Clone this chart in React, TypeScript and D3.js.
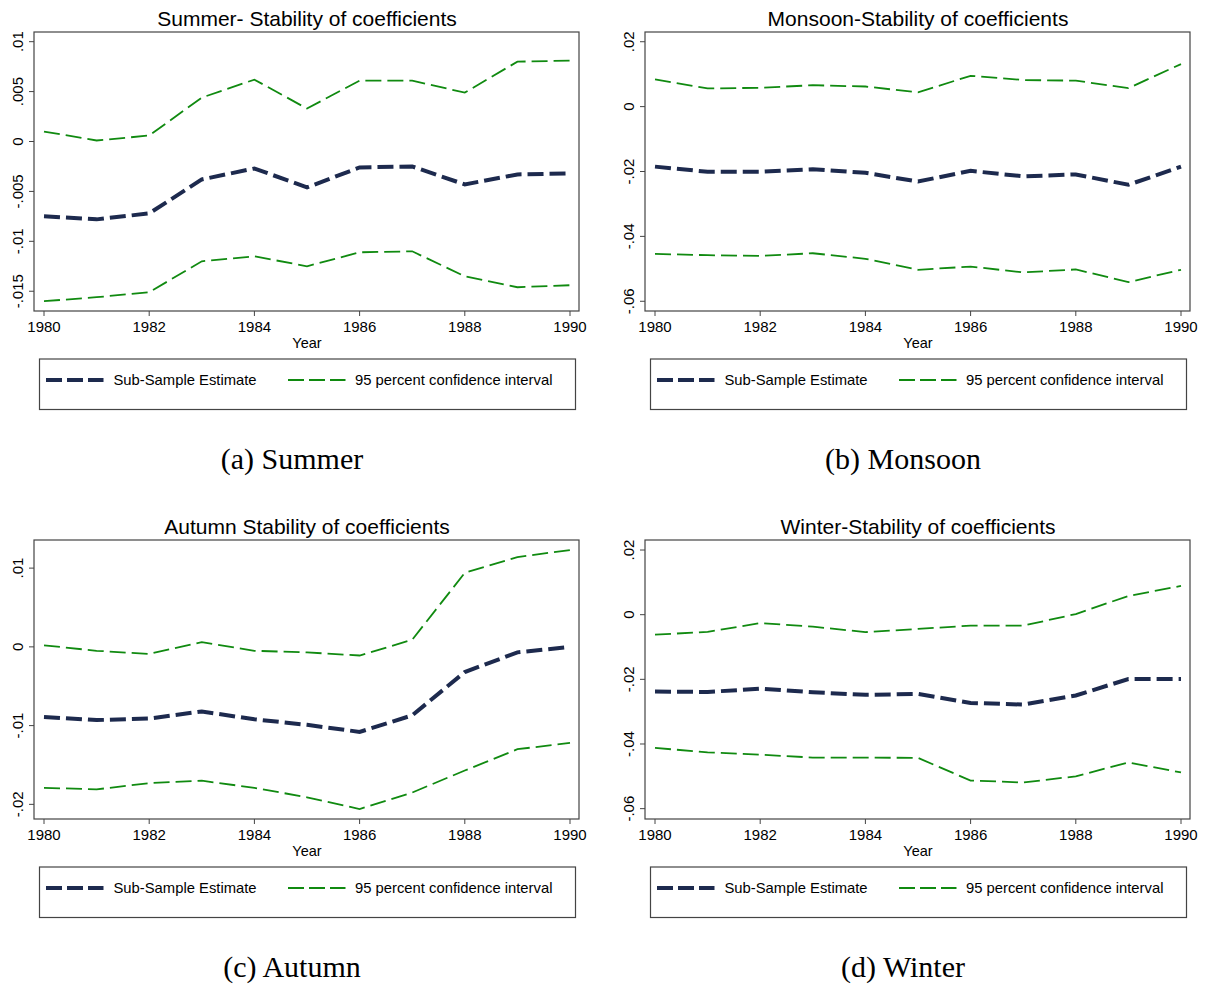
import React, { useEffect, useRef } from "react";
import * as d3 from "d3";

const years = [1980, 1981, 1982, 1983, 1984, 1985, 1986, 1987, 1988, 1989, 1990];
const xTicks = [1980, 1982, 1984, 1986, 1988, 1990];

const summerEst = [-0.0075, -0.0078, -0.0072, -0.0038, -0.0027, -0.0046, -0.0026, -0.0025, -0.0043, -0.0033, -0.0032];
const summerUpper = [0.001, 0.0001, 0.0006, 0.0044, 0.0062, 0.0033, 0.0061, 0.0061, 0.0049, 0.008, 0.0081];
const summerLower = [-0.016, -0.0156, -0.0151, -0.012, -0.0115, -0.0125, -0.0111, -0.011, -0.0135, -0.0146, -0.0144];

const monsoonEst = [-0.0185, -0.0201, -0.0201, -0.0193, -0.0204, -0.0231, -0.0198, -0.0215, -0.0209, -0.0241, -0.0185];
const monsoonUpper = [0.0084, 0.0056, 0.0058, 0.0066, 0.0062, 0.0044, 0.0095, 0.0082, 0.008, 0.0057, 0.0131];
const monsoonLower = [-0.0454, -0.0458, -0.046, -0.0452, -0.0469, -0.0503, -0.0493, -0.0511, -0.0502, -0.0541, -0.0503];

const autumnEst = [-0.0089, -0.0093, -0.0091, -0.0082, -0.0092, -0.0099, -0.0108, -0.0087, -0.0032, -0.0007, 0.0];
const autumnUpper = [0.0002, -0.0005, -0.0009, 0.0006, -0.0005, -0.0007, -0.0011, 0.0009, 0.0094, 0.0114, 0.0123];
const autumnLower = [-0.0179, -0.0181, -0.0173, -0.017, -0.0179, -0.0191, -0.0206, -0.0185, -0.0157, -0.013, -0.0122];

const winterEst = [-0.0238, -0.0239, -0.0229, -0.024, -0.0248, -0.0245, -0.0273, -0.0278, -0.025, -0.0199, -0.0199];
const winterUpper = [-0.0062, -0.0053, -0.0026, -0.0037, -0.0054, -0.0044, -0.0034, -0.0034, 0.0002, 0.0058, 0.0089];
const winterLower = [-0.0412, -0.0426, -0.0433, -0.0442, -0.0442, -0.0443, -0.0513, -0.0519, -0.05, -0.0457, -0.0488];

const summerTicks = [-0.015, -0.01, -0.005, 0, 0.005, 0.01];
const monsoonTicks = [-0.06, -0.04, -0.02, 0, 0.02];
const autumnTicks = [-0.02, -0.01, 0, 0.01];
const winterTicks = [-0.06, -0.04, -0.02, 0, 0.02];

const summerLim = [-0.01698, 0.01097];
const monsoonLim = [-0.063, 0.023];
const autumnLim = [-0.02186, 0.01357];
const winterLim = [-0.0632, 0.0231];

const titles = [
  "Summer- Stability of coefficients",
  "Monsoon-Stability of coefficients",
  "Autumn Stability of coefficients",
  "Winter-Stability of coefficients",
];
const captions = ["(a) Summer", "(b) Monsoon", "(c) Autumn", "(d) Winter"];
const legendLabels = ["Sub-Sample Estimate", "95 percent confidence interval"];

const panels = [
  { est: summerEst, up: summerUpper, lo: summerLower, ticks: summerTicks, lim: summerLim, ox: 0, oy: 0 },
  { est: monsoonEst, up: monsoonUpper, lo: monsoonLower, ticks: monsoonTicks, lim: monsoonLim, ox: 611, oy: 0 },
  { est: autumnEst, up: autumnUpper, lo: autumnLower, ticks: autumnTicks, lim: autumnLim, ox: 0, oy: 508 },
  { est: winterEst, up: winterUpper, lo: winterLower, ticks: winterTicks, lim: winterLim, ox: 611, oy: 508 },
];

const NAVY = "#1d2a4e";
const GREEN = "#108a10";
const SANS = "'Liberation Sans', Arial, sans-serif";

// stata style: .01, -.005, 0
const fmt = (v: number) => {
  if (Math.abs(v) < 1e-12) return "0";
  let s = String(+v.toFixed(4));
  return s.replace("0.", ".");
};

const App = () => {
  const ref = useRef<SVGSVGElement>(null);

  useEffect(() => {
    const svg = d3.select(ref.current);
    svg.selectAll("*").remove();
    svg.append("rect").attr("width", 1206).attr("height", 988).attr("fill", "#fff");

    const fx0 = 34, fx1 = 579, fy0 = 32, fy1 = 311;

    panels.forEach((p, i) => {
      const g = svg.append("g").attr("transform", `translate(${p.ox},${p.oy})`);
      const x = d3.scaleLinear().domain([1980, 1990]).range([fx0 + 10, fx1 - 9]);
      const y = d3.scaleLinear().domain(p.lim).range([fy1, fy0]);

      g.append("text")
        .attr("x", 307)
        .attr("y", 26)
        .attr("text-anchor", "middle")
        .attr("font-family", SANS)
        .attr("font-size", 21)
        .text(titles[i]);

      g.append("rect")
        .attr("x", fx0).attr("y", fy0)
        .attr("width", fx1 - fx0).attr("height", fy1 - fy0)
        .attr("fill", "#fff").attr("stroke", "#444").attr("stroke-width", 1.2);

      // y axis
      p.ticks.forEach((t) => {
        g.append("line")
          .attr("x1", fx0 - 5).attr("x2", fx0)
          .attr("y1", y(t)).attr("y2", y(t))
          .attr("stroke", "#444");
        g.append("text")
          .attr("transform", `translate(23,${y(t)}) rotate(-90)`)
          .attr("text-anchor", "middle")
          .attr("font-family", SANS)
          .attr("font-size", 15)
          .text(fmt(t));
      });

      // x axis
      xTicks.forEach((t) => {
        g.append("line")
          .attr("x1", x(t)).attr("x2", x(t))
          .attr("y1", fy1).attr("y2", fy1 + 5)
          .attr("stroke", "#444");
        g.append("text")
          .attr("x", x(t)).attr("y", fy1 + 21)
          .attr("text-anchor", "middle")
          .attr("font-family", SANS)
          .attr("font-size", 15)
          .text(t);
      });
      g.append("text")
        .attr("x", 307).attr("y", 348)
        .attr("text-anchor", "middle")
        .attr("font-family", SANS)
        .attr("font-size", 14.5)
        .text("Year");

      const line = d3.line<number>().x((d, j) => x(years[j])).y((d) => y(d));

      [p.up, p.lo].forEach((s) => {
        g.append("path")
          .attr("d", line(s))
          .attr("fill", "none")
          .attr("stroke", GREEN)
          .attr("stroke-width", 1.8)
          .attr("stroke-dasharray", "16,6");
      });
      g.append("path")
        .attr("d", line(p.est))
        .attr("fill", "none")
        .attr("stroke", NAVY)
        .attr("stroke-width", 4)
        .attr("stroke-dasharray", "16,6");

      // legend
      const lg = g.append("g").attr("transform", "translate(39.5,359)");
      lg.append("rect")
        .attr("width", 536).attr("height", 50.5)
        .attr("fill", "#fff").attr("stroke", "#444").attr("stroke-width", 1.2);
      lg.append("line")
        .attr("x1", 6.5).attr("x2", 64).attr("y1", 21).attr("y2", 21)
        .attr("stroke", NAVY).attr("stroke-width", 4)
        .attr("stroke-dasharray", "16,5");
      lg.append("text")
        .attr("x", 74).attr("y", 26)
        .attr("font-family", SANS).attr("font-size", 14.8)
        .text(legendLabels[0]);
      lg.append("line")
        .attr("x1", 248.5).attr("x2", 306).attr("y1", 21).attr("y2", 21)
        .attr("stroke", GREEN).attr("stroke-width", 1.8)
        .attr("stroke-dasharray", "16,5");
      lg.append("text")
        .attr("x", 315.5).attr("y", 26)
        .attr("font-family", SANS).attr("font-size", 14.8)
        .text(legendLabels[1]);

      g.append("text")
        .attr("x", 292).attr("y", 469)
        .attr("text-anchor", "middle")
        .attr("font-family", "'Liberation Serif', 'Times New Roman', serif")
        .attr("font-size", 30)
        .text(captions[i]);
    });
  }, []);

  return (
    <svg
      ref={ref}
      width={1206}
      height={988}
      style={{ position: "absolute", left: 0, top: 0, display: "block" }}
    />
  );
};

export default App;
